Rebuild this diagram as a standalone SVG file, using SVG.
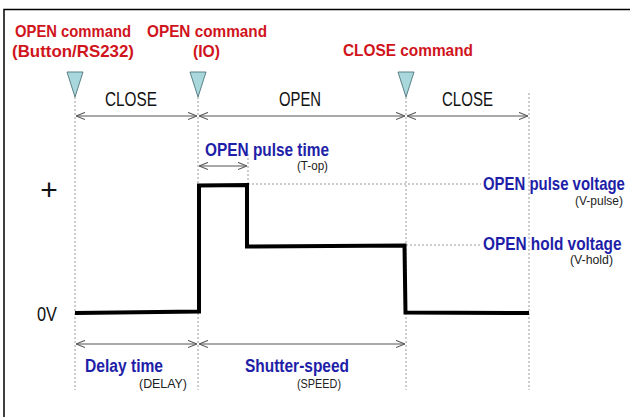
<svg xmlns="http://www.w3.org/2000/svg" width="630" height="417" viewBox="0 0 630 417">
<defs>
<style>
.red{font-family:"Liberation Sans",Arial,sans-serif;font-size:17px;font-weight:bold;fill:#d0141c}
.blue{font-family:"Liberation Sans",Arial,sans-serif;font-size:18px;font-weight:bold;fill:#1e1ea8}
.blk{font-family:"Liberation Sans",Arial,sans-serif;font-size:20px;fill:#111}
.plus{font-family:"Liberation Sans",Arial,sans-serif;font-size:30px;fill:#111}
.sm{font-family:"Liberation Sans",Arial,sans-serif;font-size:12px;fill:#222}
.dot{stroke:#9a9a9a;stroke-width:1;stroke-dasharray:2 2;fill:none}
.arr{stroke:#555;stroke-width:1.2;fill:none;marker-start:url(#ah);marker-end:url(#ah)}
.tri{fill:#a8d7dc;stroke:#5b8088;stroke-width:1}
.wave{stroke:#000;stroke-width:4;fill:none;stroke-linejoin:miter}
</style>
<marker id="ah" viewBox="0 0 10 10" refX="10" refY="5" markerWidth="9" markerHeight="9" markerUnits="userSpaceOnUse" orient="auto-start-reverse">
<path d="M0,1 L10,5 L0,9" fill="none" stroke="#555" stroke-width="1.2"/>
</marker>
</defs>
<rect width="630" height="417" fill="#fff"/>
<g id="frame">
<path d="M4,417 V9.5 H630" fill="none" stroke="#000" stroke-width="1.5"/>
</g>
<g id="guides">
<line class="dot" x1="75" y1="97" x2="75" y2="390"/>
<line class="dot" x1="198" y1="97" x2="198" y2="390"/>
<line class="dot" x1="406" y1="97" x2="406" y2="390"/>
<line class="dot" x1="529" y1="93" x2="529" y2="390"/>
<line class="dot" x1="248" y1="154" x2="248" y2="184"/>
<line class="dot" x1="248" y1="184" x2="481" y2="184"/>
<line class="dot" x1="406" y1="245" x2="481" y2="245"/>
</g>
<g id="connectors">
<line class="arr" x1="76" y1="116" x2="197" y2="116"/>
<line class="arr" x1="199" y1="116" x2="405" y2="116"/>
<line class="arr" x1="407" y1="116" x2="528" y2="116"/>
<line class="arr" x1="199" y1="166" x2="247" y2="166"/>
<line class="arr" x1="76" y1="344" x2="197" y2="344"/>
<line class="arr" x1="199" y1="344" x2="405" y2="344"/>
</g>
<g id="waveform">
<path class="wave" d="M75,313 L199,311.5 L199,185.5 L247,185 L247,246.5 L404.5,245.5 L405.5,312.5 L529,313"/>
</g>
<g id="cmd-open-button">
<polygon class="tri" points="67,72 83,72 75,97"/>
<text class="red" x="15" y="37" textLength="116" lengthAdjust="spacingAndGlyphs">OPEN command</text>
<text class="red" x="12" y="57" textLength="122" lengthAdjust="spacingAndGlyphs">(Button/RS232)</text>
</g>
<g id="cmd-open-io">
<polygon class="tri" points="190,72 206,72 198,97"/>
<text class="red" x="147" y="37" textLength="120" lengthAdjust="spacingAndGlyphs">OPEN command</text>
<text class="red" x="193" y="57" textLength="27" lengthAdjust="spacingAndGlyphs">(IO)</text>
</g>
<g id="cmd-close">
<polygon class="tri" points="398,72 414,72 406,97"/>
<text class="red" x="343" y="56" textLength="130" lengthAdjust="spacingAndGlyphs">CLOSE command</text>
</g>
<g id="state-close-1">
<text class="blk" x="105" y="106" textLength="52" lengthAdjust="spacingAndGlyphs">CLOSE</text>
</g>
<g id="state-open">
<text class="blk" x="279" y="106" textLength="42" lengthAdjust="spacingAndGlyphs">OPEN</text>
</g>
<g id="state-close-2">
<text class="blk" x="442" y="106" textLength="51" lengthAdjust="spacingAndGlyphs">CLOSE</text>
</g>
<g id="axis-labels">
<text class="plus" x="49" y="200" text-anchor="middle">+</text>
<text class="blk" x="37" y="321" textLength="20" lengthAdjust="spacingAndGlyphs">0V</text>
</g>
<g id="pulse-time">
<text class="blue" x="205" y="156" textLength="124" lengthAdjust="spacingAndGlyphs">OPEN pulse time</text>
<text class="sm" x="297" y="170" textLength="31" lengthAdjust="spacingAndGlyphs">(T-op)</text>
</g>
<g id="pulse-voltage">
<text class="blue" transform="translate(483,190) scale(0.83,1)">OPEN pulse voltage</text>
<text class="sm" x="575" y="205" textLength="48" lengthAdjust="spacingAndGlyphs">(V-pulse)</text>
</g>
<g id="hold-voltage">
<text class="blue" transform="translate(483,250) scale(0.855,1)">OPEN hold voltage</text>
<text class="sm" x="570" y="264" textLength="43" lengthAdjust="spacingAndGlyphs">(V-hold)</text>
</g>
<g id="delay-time">
<text class="blue" x="85" y="372" textLength="78" lengthAdjust="spacingAndGlyphs">Delay time</text>
<text class="sm" x="139" y="388" textLength="48" lengthAdjust="spacingAndGlyphs">(DELAY)</text>
</g>
<g id="shutter-speed">
<text class="blue" x="245" y="372" textLength="104" lengthAdjust="spacingAndGlyphs">Shutter-speed</text>
<text class="sm" x="297" y="388" textLength="44" lengthAdjust="spacingAndGlyphs">(SPEED)</text>
</g>
</svg>
